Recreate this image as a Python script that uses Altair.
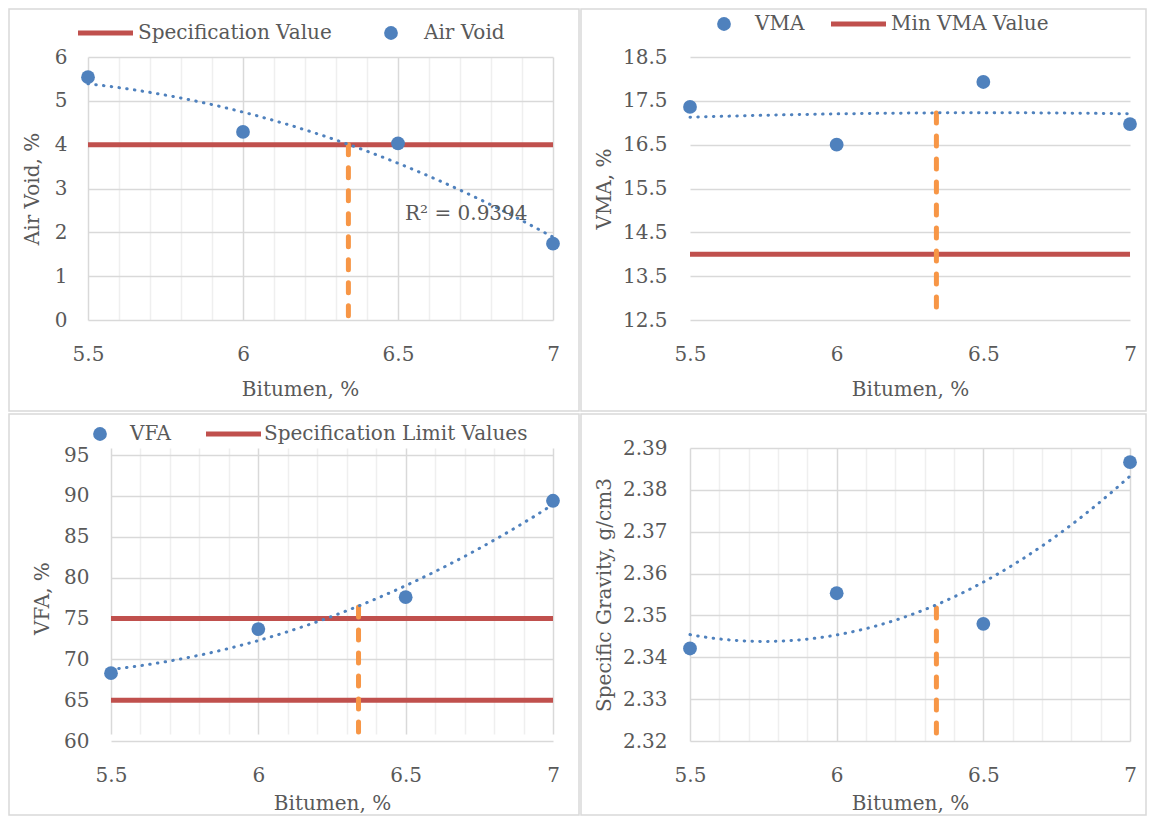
import altair as alt
import pandas as pd

# ---------------- data ----------------
bitumen = [5.5, 6.0, 6.5, 7.0]
air_void = [5.54, 4.29, 4.03, 1.74]
vma = [17.36, 16.50, 17.93, 16.97]
vfa = [68.3, 73.7, 77.6, 89.4]
gmb = [2.3421, 2.3553, 2.3480, 2.3866]

air_void_spec = [4.0]
vma_min = [14.0]
vfa_limits = [65.0, 75.0]

optimum_bitumen = [6.34]
guide_top_air = [4.0]
guide_top_vma = [17.22]
guide_top_vfa = [76.4]
guide_top_gmb = [2.3518]

x_ticks = [5.5, 6.0, 6.5, 7.0]
x_minor = [5.5, 5.6, 5.7, 5.8, 5.9, 6.0, 6.1, 6.2, 6.3, 6.4, 6.5, 6.6, 6.7, 6.8, 6.9, 7.0]
air_ticks = [0, 1, 2, 3, 4, 5, 6]
vma_ticks = [12.5, 13.5, 14.5, 15.5, 16.5, 17.5, 18.5]
vfa_ticks = [60, 65, 70, 75, 80, 85, 90, 95]
gmb_ticks = [2.32, 2.33, 2.34, 2.35, 2.36, 2.37, 2.38, 2.39]

r2_label = ["R\u00b2 = 0.9394"]

# ---------------- style ----------------
FONT = "DejaVu Serif"
TXT = "#595959"
BLUE = "#4F81BD"
RED = "#C0504D"
ORANGE = "#F79646"
GRID = "#d9d9d9"
MINOR = "#efefef"
BORDER = "#d9d9d9"
FS = 20
MAJOR = "abs(datum.value * 2 - round(datum.value * 2)) < 0.001"

# shared cell geometry (plot-area sizes per column / row)
W1, W2 = 465, 440
H1, H2 = 263, 293


def x_axis(minor, title_x, title_y):
    common = dict(domain=False, ticks=False, labelPadding=24, labelFlush=False,
                  labelOverlap=False, title="Bitumen, %", titleX=title_x, titleY=title_y,
                  titleAlign="center", titleBaseline="middle")
    if minor:
        return alt.Axis(values=x_minor,
                        labelExpr=MAJOR + " ? format(datum.value, '~g') : ''",
                        grid=True,
                        gridColor={"condition": {"test": MAJOR, "value": GRID}, "value": MINOR},
                        gridWidth=1.5, **common)
    return alt.Axis(values=x_ticks, labelExpr="format(datum.value, '~g')", grid=False, **common)


def y_axis(ticks, fmt, title, title_x, title_y, pad):
    return alt.Axis(values=ticks, format=fmt, grid=True, gridColor=GRID, gridWidth=1.5,
                    domain=False, ticks=False, labelPadding=pad, labelFlush=False,
                    labelOverlap=False, title=title, titleX=title_x, titleY=title_y,
                    titleAngle=270, titleAlign="center", titleBaseline="middle")


def one():
    return pd.DataFrame({"k": [0]})


def panel(values, ydomain, yticks, yfmt, ytitle, spec_vals, guide_top, W, H, xrange, yrange,
          border, minor, xtitle_x, xtitle_y, ytitle_x, ypad, legend, r2=None):
    xs = alt.Scale(domain=[5.5, 7.0], nice=False, zero=False, range=xrange)
    ys = alt.Scale(domain=ydomain, nice=False, zero=False, range=yrange)
    ytitle_y = (yrange[0] + yrange[1]) / 2
    X = alt.X("Bitumen:Q", scale=xs, axis=x_axis(minor, xtitle_x, xtitle_y))
    Y = alt.Y("Value:Q", scale=ys, axis=y_axis(yticks, yfmt, ytitle, ytitle_x, ytitle_y, ypad))
    df = pd.DataFrame({"Bitumen": bitumen, "Value": values})

    L, R, T, B = border
    layers = []
    layers.append(alt.Chart(one()).mark_rect(fillOpacity=0, stroke=BORDER, strokeWidth=1.5).encode(
        x=alt.value(L), x2=alt.value(R), y=alt.value(T), y2=alt.value(B)))

    if spec_vals:
        sdf = pd.DataFrame({"Bitumen": [5.5] * len(spec_vals), "B2": [7.0] * len(spec_vals),
                            "Value": spec_vals})
        layers.append(alt.Chart(sdf).mark_rule(color=RED, strokeWidth=5).encode(
            x=X, x2="B2:Q", y=Y))

    gdf = pd.DataFrame({"Bitumen": optimum_bitumen, "Value": guide_top, "Low": [ydomain[0]]})
    layers.append(alt.Chart(gdf).mark_rule(color=ORANGE, strokeWidth=5, strokeDash=[10, 13],
                                           strokeCap="round").encode(x=X, y=Y, y2="Low:Q"))

    layers.append(alt.Chart(df).transform_regression(
        "Bitumen", "Value", method="poly", order=2, extent=[5.5, 7.0]
    ).mark_line(color=BLUE, strokeWidth=3, strokeDash=[0.5, 7.3], strokeCap="round").encode(x=X, y=Y))

    layers.append(alt.Chart(df).mark_point(filled=True, size=190, color=BLUE, opacity=1).encode(x=X, y=Y))

    for item in legend:
        kind, label, a, b, ly = item
        if kind == "dot":
            layers.append(alt.Chart(one()).mark_point(filled=True, size=190, color=BLUE, opacity=1).encode(
                x=alt.value(a), y=alt.value(ly)))
        else:
            layers.append(alt.Chart(one()).mark_rule(color=RED, strokeWidth=5).encode(
                x=alt.value(a), x2=alt.value(a + 55), y=alt.value(ly)))
        layers.append(alt.Chart(pd.DataFrame({"label": [label]})).mark_text(
            align="left", baseline="middle", fontSize=FS, font=FONT, color=TXT).encode(
            x=alt.value(b), y=alt.value(ly), text="label:N"))

    if r2 is not None:
        layers.append(alt.Chart(pd.DataFrame({"label": r2_label})).mark_text(
            align="left", baseline="middle", fontSize=FS, font=FONT, color=TXT).encode(
            x=alt.value(r2[0]), y=alt.value(r2[1]), text="label:N"))

    return alt.layer(*layers).properties(width=W, height=H)


p1 = panel(air_void, [0, 6], air_ticks, "d", "Air Void, %", air_void_spec, guide_top_air,
           W=W1, H=H1, xrange=[0, W1], yrange=[H1, 0],
           border=(-79, 491, -48, 354), minor=True,
           xtitle_x=212, xtitle_y=69, ytitle_x=-56, ypad=21,
           legend=[("line", "Specification Value", -10, 50, -24),
                   ("dot", "Air Void", 303, 336, -24)],
           r2=(317, 157))

p2 = panel(vma, [12.5, 18.5], vma_ticks, ".1f", "VMA, %", vma_min, guide_top_vma,
           W=W2, H=H1, xrange=[0, W2], yrange=[H1, 0],
           border=(-109, 456, -48, 354), minor=False,
           xtitle_x=220, xtitle_y=69, ytitle_x=-86, ypad=23,
           legend=[("dot", "VMA", 34, 65, -33),
                   ("line", "Min VMA Value", 141, 201, -33)])

p3 = panel(vfa, [60, 95], vfa_ticks, "d", "VFA, %", vfa_limits, guide_top_vfa,
           W=W1, H=H2, xrange=[23, W1], yrange=[H2, 7],
           border=(-79, 491, -34, 367), minor=True,
           xtitle_x=244, xtitle_y=62, ytitle_x=-46, ypad=-1,
           legend=[("dot", "VFA", 12, 42, -14),
                   ("line", "Specification Limit Values", 118, 176, -14)])

p4 = panel(gmb, [2.32, 2.39], gmb_ticks, ".2f", "Specific Gravity, g/cm3", [], guide_top_gmb,
           W=W2, H=H2, xrange=[0, W2], yrange=[H2, 0],
           border=(-109, 456, -34, 367), minor=True,
           xtitle_x=220, xtitle_y=62, ytitle_x=-86, ypad=23,
           legend=[])

chart = alt.concat(p1, p2, p3, p4, columns=2).properties(
    bounds="flush", spacing={"row": 128, "column": 137}, padding=0
).configure_view(stroke=None).configure_axis(
    labelFont=FONT, titleFont=FONT, labelFontSize=FS, titleFontSize=FS,
    labelColor=TXT, titleColor=TXT, titleFontWeight="normal"
).configure_text(font=FONT)

chart.save("out.html", embed_options={"renderer": "svg", "actions": False})
